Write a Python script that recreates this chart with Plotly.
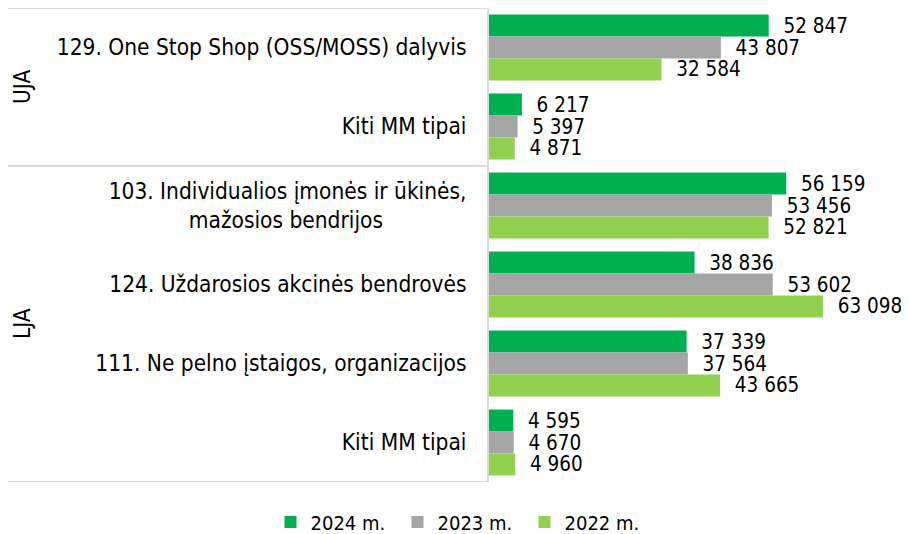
import plotly.graph_objects as go

categories = [
    "129. One Stop Shop (OSS/MOSS) dalyvis",
    "Kiti MM tipai",
    "103. Individualios įmonės ir ūkinės,<br>mažosios bendrijos" + "\u00a0" * 13,
    "124. Uždarosios akcinės bendrovės",
    "111. Ne pelno įstaigos, organizacijos",
    "Kiti MM tipai",
]
groups = ["UJA", "LJA"]
group_centers = [0.5, 3.5]
series_names = ["2024 m.", "2023 m.", "2022 m."]
values_2024 = [52847, 6217, 56159, 38836, 37339, 4595]
values_2023 = [43807, 5397, 53456, 53602, 37564, 4670]
values_2022 = [32584, 4871, 52821, 63098, 43665, 4960]
colors = ["#00B050", "#A5A5A5", "#92D050"]

positions = list(range(len(categories)))
FONT = "DejaVu Sans Condensed"
FS = 22.5

# page body has an 8px margin; work in window pixels and shift
OFF = 8
W, H = 909 - OFF, 580
L = 489 - OFF
T = 8 - OFF
B = H - (482 - OFF)
R = 0
pw = W - L - R
ph = H - T - B

def px2paper_x(x):
    return (x - OFF - L) / pw

def px2paper_y(y):
    return (482 - y) / ph

fig = go.Figure()
for name, vals, col in zip(series_names, [values_2024, values_2023, values_2022], colors):
    fig.add_trace(go.Bar(
        y=positions, x=vals, name=name, orientation="h",
        marker=dict(color=col, line=dict(width=0)),
        texttemplate="\u00a0\u00a0%{x:,}", textposition="outside",
        constraintext="none", cliponaxis=False,
        textfont=dict(family=FONT, size=20.5, color="#000000"),
        hoverinfo="skip",
    ))

shapes = []
for yv in [-0.5, 1.5, 5.5]:
    shapes.append(dict(type="line", xref="paper", yref="y", x0=px2paper_x(7), x1=0,
                       y0=yv, y1=yv, line=dict(color="#D9D9D9", width=2)))
shapes.append(dict(type="line", xref="paper", yref="y", x0=px2paper_x(7), x1=px2paper_x(7),
                   y0=-0.5, y1=5.5, line=dict(color="#F0F0F0", width=1)))

annotations = []
for g, c in zip(groups, group_centers):
    annotations.append(dict(text=g, xref="paper", yref="y", x=px2paper_x(22), y=c,
                            xanchor="center", yanchor="middle",
                            showarrow=False, textangle=-90,
                            font=dict(family=FONT, size=FS, color="#000000")))

fig.update_layout(
    width=W, height=H,
    margin=dict(l=L, r=R, t=T, b=B, pad=0),
    paper_bgcolor="white", plot_bgcolor="white",
    barmode="group", bargap=0.165, bargroupgap=0,
    separators=". ",
    font=dict(family=FONT, size=FS, color="#000000"),
    xaxis=dict(range=[0, 79350], visible=False, showgrid=False, zeroline=False),
    yaxis=dict(range=[5.5, -0.5], tickvals=positions, ticktext=categories,
               showgrid=False, zeroline=False, showline=True, linecolor="#D9D9D9",
               linewidth=2, ticks="", ticklabelstandoff=16, automargin=False,
               tickfont=dict(family=FONT, size=FS, color="#000000")),
    showlegend=True,
    legend=dict(orientation="h", x=px2paper_x(461), xanchor="center",
                y=px2paper_y(522), yanchor="middle",
                font=dict(family=FONT, size=20, color="#000000"),
                traceorder="normal", itemwidth=30,
                entrywidth=82, entrywidthmode="pixels"),
    shapes=shapes, annotations=annotations,
)

fig.write_html("out.html")
